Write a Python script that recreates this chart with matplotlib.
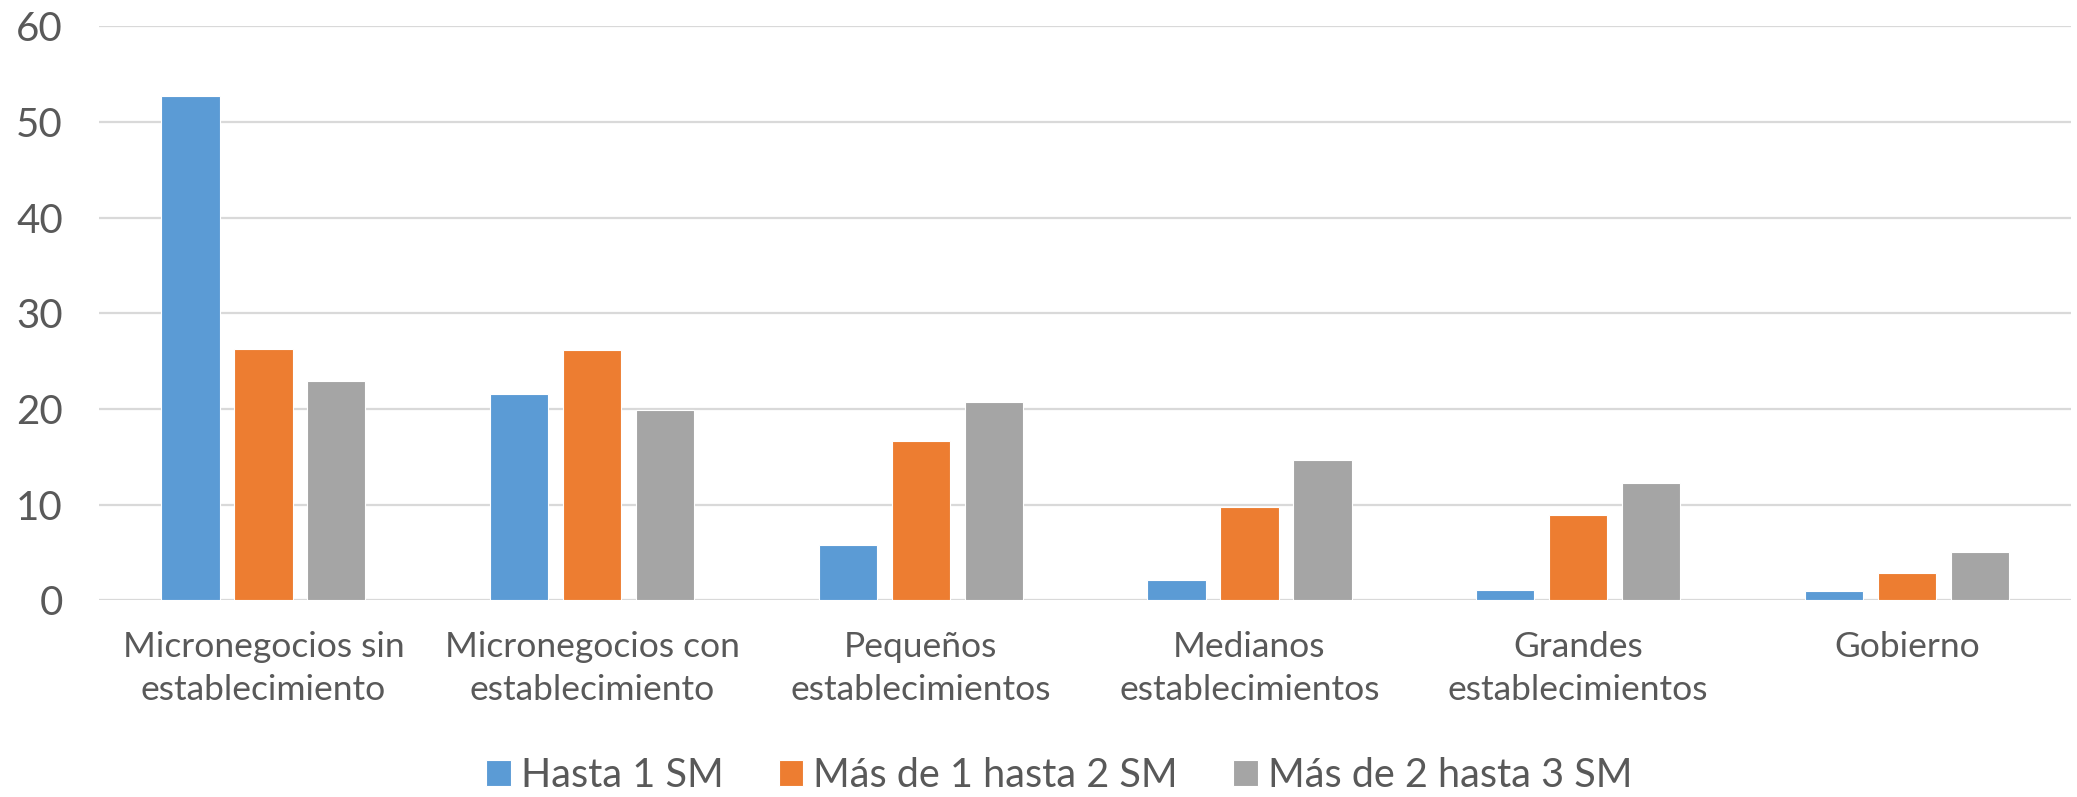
import numpy as np
import matplotlib
matplotlib.use("Agg")
import matplotlib.pyplot as plt

plt.rcParams['font.family'] = ['Lato', 'DejaVu Sans']

categories = ["Micronegocios sin\nestablecimiento", "Micronegocios con\nestablecimiento",
              "Pequeños\nestablecimientos", "Medianos\nestablecimientos",
              "Grandes\nestablecimientos", "Gobierno"]
series_names = ["Hasta 1 SM", "Más de 1 hasta 2 SM", "Más de 2 hasta 3 SM"]
hasta_1 = [52.7, 21.6, 5.8, 2.1, 1.1, 0.95]
de_1_a_2 = [26.3, 26.2, 16.6, 9.75, 8.9, 2.85]
de_2_a_3 = [22.9, 19.9, 20.7, 14.7, 12.2, 5.0]
colors = ["#5B9BD5", "#ED7D31", "#A5A5A5"]
text_color = "#595959"

fig = plt.figure(figsize=(20.77, 7.97), dpi=100)
ax = fig.add_axes([0.0477, 0.247, 0.9495, 0.72])

x = np.arange(len(categories))
width = 0.177
step = 0.222
for i, (vals, name) in enumerate(zip([hasta_1, de_1_a_2, de_2_a_3], series_names)):
    ax.bar(x + (i - 1) * step, vals, width, color=colors[i], label=name,
           edgecolor="white", linewidth=0.8, zorder=3)

ax.set_xlim(-0.5, len(categories) - 0.5)
ax.set_ylim(0, 60)
ax.set_yticks(range(0, 61, 10))
ax.set_xticks(x)
ax.set_xticklabels(categories, fontsize=25.5, color=text_color, linespacing=1.45)
ax.tick_params(axis="y", labelsize=29, colors=text_color, length=0, pad=26)
ax.tick_params(axis="x", length=0, pad=22)
ax.grid(axis="y", color="#D9D9D9", linewidth=1.6, zorder=0)
for s in ax.spines.values():
    s.set_visible(False)

fig.legend(loc="center", bbox_to_anchor=(0.51, 0.027), ncol=3, frameon=False,
           fontsize=28.5, handlelength=0.62, handleheight=0.62, handletextpad=0.25,
           columnspacing=1.4, labelcolor=text_color)

fig.savefig("out.png", dpi=100)
